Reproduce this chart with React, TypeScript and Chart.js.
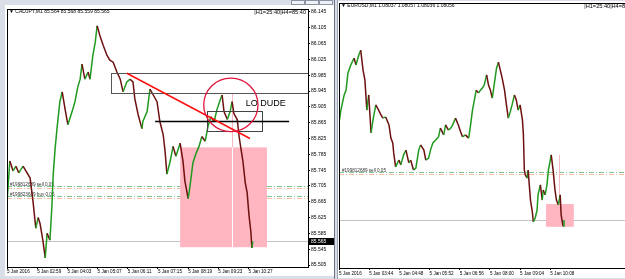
import React, { useEffect, useRef } from 'react';
import { Chart, registerables } from 'chart.js';
Chart.register(...registerables);

const FONT = '"Liberation Sans", Arial, sans-serif';
const UP = '#1f9a1f';
const DOWN = '#6e1010';

// ---------- CADJPY,M1 (left) ----------
const cadTimes = [
  0, 6, 13, 19, 25, 34, 40, 49, 55, 61,
  66, 70, 76, 81, 85, 91, 95, 98, 102, 106,
  112, 117, 123, 129, 138, 144, 150, 155, 159, 165,
  172, 176, 182, 187, 191, 197, 204, 212, 218, 225,
  233, 240, 246, 254, 261, 267, 271, 278, 286, 288,
  297, 303, 310, 318, 324, 331, 335, 339, 346, 352,
  358, 367, 373, 377, 384, 388, 394, 401, 407, 413,
  420, 426, 432, 439, 445, 452, 456, 460, 467, 473,
  477, 481, 488, 492, 496, 500, 505, 509, 513, 517,
  519, 521,
];
const cadPrices = [
  85.663, 85.768, 85.743, 85.755, 85.738, 85.755, 85.743, 85.725, 85.668, 85.598,
  85.625, 85.61, 85.568, 85.523, 85.585, 85.568, 85.65, 85.735, 85.8, 85.85,
  85.918, 85.943, 85.9, 85.86, 85.893, 85.918, 85.955, 85.975, 86.013, 85.975,
  85.993, 85.975, 86.035, 86.068, 86.11, 86.085, 86.06, 86.035, 86.023, 86.018,
  85.993, 85.975, 85.943, 85.968, 85.975, 85.968, 85.925, 85.885, 85.85, 85.868,
  85.893, 85.95, 85.935, 85.918, 85.868, 85.835, 85.793, 85.735, 85.768, 85.805,
  85.78, 85.813, 85.768, 85.718, 85.673, 85.705, 85.763, 85.788, 85.805, 85.83,
  85.818, 85.855, 85.88, 85.868, 85.898, 85.923, 85.935, 85.893, 85.873, 85.893,
  85.918, 85.888, 85.873, 85.83, 85.798, 85.768, 85.713, 85.688, 85.63, 85.588,
  85.548, 85.565,
];
const cadTickTimes = [0, 64, 128, 192, 256, 320, 384, 448, 512];
const cadTickLabels = ['5 Jan 2016', '5 Jan 02:59', '5 Jan 04:03', '5 Jan 05:07', '5 Jan 06:11', '5 Jan 07:15', '5 Jan 08:19', '5 Jan 09:23', '5 Jan 10:27'];
const cadPriceTicks = [85.505, 85.545, 85.585, 85.625, 85.665, 85.705, 85.745, 85.785, 85.825, 85.865, 85.905, 85.945, 85.985, 86.025, 86.065, 86.105, 86.145];
const cadBid = 85.565;
const cadTradeLevels = [85.705, 85.68];
const cadTradeLabels = ['#199812689 sell 0.05', '#199823689 buy 0.05'];
const cadUpperBox = { t0: 220, t1: 800, p0: 85.94, p1: 85.991 };
const cadSmallBox = { t0: 424, t1: 540, p0: 85.845, p1: 85.895 };
const cadPinkBox = { t0: 367, t1: 551, p0: 85.55, p1: 85.8025 };
const cadVLine = { t: 477, p0: 85.55, p1: 85.9375 };
const cadTrend = { t0: 254, p0: 85.99, t1: 515, p1: 85.825 };
const cadHLine = { t0: 314, t1: 598, p: 85.87 };
const cadCircle = { t0: 417, t1: 532, p0: 85.8425, p1: 85.9775 };
const cadNote = { t: 506, p: 85.9125, text: 'LO DUDE' };

// ---------- EURUSD,M1 (right) ----------
const eurTimes = [
  0, 4, 11, 15, 19, 25, 32, 36, 42, 46,
  51, 55, 59, 63, 68, 72, 78, 84, 89, 93,
  99, 106, 110, 114, 116, 120, 127, 131, 137, 142,
  148, 152, 158, 163, 169, 173, 180, 184, 190, 194,
  199, 205, 211, 215, 222, 226, 232, 237, 241, 247,
  253, 258, 262, 268, 275, 279, 283, 287, 291, 296,
  300, 304, 308, 313, 317, 321, 325, 329, 334, 338,
  342, 346, 351, 355, 359, 363, 367, 372, 376, 380,
  384, 389, 391, 393, 395, 399, 401, 406, 410, 412,
  416, 420, 422, 427, 431, 433, 437, 441, 444, 448,
  450, 454, 458, 461, 465, 469, 471, 475, 477,
];
const eurPrices = [
  1.08299, 1.08331, 1.08369, 1.08381, 1.08424, 1.08444, 1.08461, 1.08444, 1.08469, 1.08481,
  1.08431, 1.08406, 1.08331, 1.08369, 1.08274, 1.08306, 1.08344, 1.08331, 1.08319, 1.08311,
  1.08314, 1.08294, 1.08261, 1.08249, 1.08224, 1.08189, 1.08206, 1.08194, 1.08219, 1.08231,
  1.08199, 1.08206, 1.08181, 1.08186, 1.08231, 1.08244, 1.08231, 1.08206, 1.08211, 1.08231,
  1.08249, 1.08256, 1.08264, 1.08286, 1.08269, 1.08294, 1.08281, 1.08286, 1.08294, 1.08311,
  1.08294, 1.08276, 1.08264, 1.08269, 1.08261, 1.08294, 1.08331, 1.08356, 1.08381, 1.08374,
  1.08381, 1.08386, 1.08394, 1.08419, 1.08394, 1.08381, 1.08361, 1.08394, 1.08436, 1.08451,
  1.08431, 1.08411, 1.08381, 1.08344, 1.08311, 1.08326, 1.08344, 1.08369, 1.08356, 1.08331,
  1.08344, 1.08306, 1.08269, 1.08181, 1.08169, 1.08161, 1.08181, 1.08106, 1.08076, 1.08051,
  1.08061, 1.08081, 1.08119, 1.08144, 1.08106, 1.08131, 1.08119, 1.08144, 1.08181, 1.08206,
  1.08219, 1.08181, 1.08131, 1.08106, 1.08094, 1.08119, 1.08069, 1.08041, 1.08056,
];
const eurTickTimes = [0, 64, 128, 192, 256, 320, 384, 448];
const eurTickLabels = ['5 Jan 2016', '5 Jan 03:44', '5 Jan 04:48', '5 Jan 05:52', '5 Jan 06:56', '5 Jan 08:00', '5 Jan 09:04', '5 Jan 10:08'];
const eurBid = 1.08056;
const eurTradeLevels = [1.08176];
const eurTradeLabels = ['#199812689 sell 0.05'];
const eurPinkBox = { t0: 439, t1: 498, p0: 1.08039, p1: 1.08096 };
const eurVLine = { t: 467, p0: 1.08096, p1: 1.08219 };

const TRADE_GREEN = '#7cc493';
const TRADE_ORANGE = '#f8bea2';

function pts(times: number[], prices: number[]) {
  return times.map((t, i) => ({ x: t, y: prices[i] }));
}

function seg(ctx: CanvasRenderingContext2D, x0: number, y0: number, x1: number, y1: number, color: string, w: number, dash: number[] = []) {
  ctx.save();
  ctx.strokeStyle = color;
  ctx.lineWidth = w;
  ctx.setLineDash(dash);
  ctx.beginPath();
  ctx.moveTo(x0, y0);
  ctx.lineTo(x1, y1);
  ctx.stroke();
  ctx.restore();
}

const snap = (v: number) => Math.round(v) + 0.5;

function clipArea(chart: any) {
  const { ctx, chartArea: a } = chart;
  ctx.save();
  ctx.beginPath();
  ctx.rect(a.left, a.top, a.right - a.left, a.bottom - a.top);
  ctx.clip();
}

function drawTradeLines(chart: any, levels: number[], labels: string[]) {
  const { ctx, chartArea: a, scales } = chart;
  levels.forEach((lv: number, i: number) => {
    const yg = snap(scales.y.getPixelForValue(lv));
    seg(ctx, a.left, yg, a.right, yg, TRADE_GREEN, 1, [5, 2, 1, 2]);
    seg(ctx, a.left, yg + 2, a.right, yg + 2, TRADE_ORANGE, 1, [5, 2, 1, 2]);
    ctx.save();
    ctx.font = `4.6px ${FONT}`;
    ctx.fillStyle = '#333';
    ctx.textBaseline = 'bottom';
    ctx.fillText(labels[i], a.left + 3, yg + 1);
    ctx.restore();
  });
}

function drawHeader(chart: any, left: string, right: string) {
  const { ctx, chartArea: a } = chart;
  ctx.save();
  ctx.font = `5px ${FONT}`;
  ctx.fillStyle = '#000';
  ctx.textBaseline = 'middle';
  ctx.textAlign = 'left';
  ctx.fillText(left, a.left + 2, a.top + 3);
  ctx.restore();
  ctx.save();
  ctx.font = `5.6px ${FONT}`;
  ctx.fillStyle = '#000';
  ctx.textBaseline = 'middle';
  ctx.textAlign = 'right';
  const rx = Math.min(a.right, chart.width) - 2;
  ctx.fillText(right, rx, a.top + 3);
  ctx.restore();
}

function strokeBorder(chart: any) {
  const { ctx, chartArea: a } = chart;
  ctx.save();
  ctx.strokeStyle = '#000';
  ctx.lineWidth = 1;
  ctx.strokeRect(snap(a.left), snap(a.top), Math.round(a.right - a.left), Math.round(a.bottom - a.top));
  ctx.restore();
}

const cadPlugin = {
  id: 'cadOverlay',
  beforeDatasetsDraw(chart: any) {
    const { ctx, chartArea: a, scales: { x, y } } = chart;
    clipArea(chart);
    const yb = snap(y.getPixelForValue(cadBid));
    seg(ctx, a.left, yb, a.right, yb, '#c4c4c4', 1);
    drawTradeLines(chart, cadTradeLevels, cadTradeLabels);
    const bx0 = x.getPixelForValue(cadPinkBox.t0);
    const bx1 = x.getPixelForValue(cadPinkBox.t1);
    const by0 = y.getPixelForValue(cadPinkBox.p1);
    const by1 = y.getPixelForValue(cadPinkBox.p0);
    ctx.fillStyle = '#ffb6c1';
    ctx.fillRect(bx0, by0, bx1 - bx0, by1 - by0);
    const vx = snap(x.getPixelForValue(cadVLine.t));
    seg(ctx, vx, y.getPixelForValue(cadVLine.p1), vx, by0, '#f5b8c4', 1);
    seg(ctx, vx, by0, vx, y.getPixelForValue(cadVLine.p0), '#ffffff', 1);
    ctx.restore();
  },
  afterDatasetsDraw(chart: any) {
    const { ctx, scales: { x, y } } = chart;
    clipArea(chart);
    ctx.strokeStyle = '#555';
    ctx.lineWidth = 1;
    const ux0 = snap(x.getPixelForValue(cadUpperBox.t0));
    const ux1 = snap(x.getPixelForValue(cadUpperBox.t1));
    const uy0 = snap(y.getPixelForValue(cadUpperBox.p1));
    const uy1 = snap(y.getPixelForValue(cadUpperBox.p0));
    ctx.strokeRect(ux0, uy0, ux1 - ux0, uy1 - uy0);
    const sx0 = snap(x.getPixelForValue(cadSmallBox.t0));
    const sx1 = snap(x.getPixelForValue(cadSmallBox.t1));
    const sy0 = snap(y.getPixelForValue(cadSmallBox.p1));
    const sy1 = snap(y.getPixelForValue(cadSmallBox.p0));
    ctx.strokeStyle = '#444';
    ctx.strokeRect(sx0, sy0, sx1 - sx0, sy1 - sy0);
    const hy = snap(y.getPixelForValue(cadHLine.p));
    seg(ctx, x.getPixelForValue(cadHLine.t0), hy, x.getPixelForValue(cadHLine.t1), hy, '#000', 1.3);
    seg(ctx, x.getPixelForValue(cadTrend.t0), y.getPixelForValue(cadTrend.p0), x.getPixelForValue(cadTrend.t1), y.getPixelForValue(cadTrend.p1), '#ff1010', 1.5);
    const cx0 = x.getPixelForValue(cadCircle.t0);
    const cx1 = x.getPixelForValue(cadCircle.t1);
    const cy0 = y.getPixelForValue(cadCircle.p1);
    const cy1 = y.getPixelForValue(cadCircle.p0);
    ctx.save();
    ctx.strokeStyle = '#e0143c';
    ctx.lineWidth = 1.3;
    ctx.beginPath();
    ctx.ellipse((cx0 + cx1) / 2, (cy0 + cy1) / 2, (cx1 - cx0) / 2, (cy1 - cy0) / 2, 0, 0, Math.PI * 2);
    ctx.stroke();
    ctx.restore();
    ctx.save();
    ctx.font = `9px ${FONT}`;
    ctx.fillStyle = '#000';
    ctx.textBaseline = 'middle';
    ctx.fillText(cadNote.text, x.getPixelForValue(cadNote.t), y.getPixelForValue(cadNote.p));
    ctx.restore();
    ctx.restore();
  },
  afterDraw(chart: any) {
    const { ctx, chartArea: a, scales: { y } } = chart;
    strokeBorder(chart);
    drawHeader(chart, '\u25BC CADJPY,M1 85.564 85.568 85.559 85.565', '|H1=25:40|H4=85:40');
    const yb = y.getPixelForValue(cadBid);
    ctx.save();
    ctx.fillStyle = '#000';
    ctx.fillRect(a.right + 1, Math.round(yb) - 3, chart.width - a.right - 1, 7);
    ctx.fillStyle = '#fff';
    ctx.font = `5px ${FONT}`;
    ctx.textBaseline = 'middle';
    ctx.fillText(cadBid.toFixed(3), a.right + 3, Math.round(yb) + 0.5);
    ctx.restore();
  },
};

const eurPlugin = {
  id: 'eurOverlay',
  beforeDatasetsDraw(chart: any) {
    const { ctx, chartArea: a, scales: { x, y } } = chart;
    clipArea(chart);
    const yb = snap(y.getPixelForValue(eurBid));
    seg(ctx, a.left, yb, a.right, yb, '#c4c4c4', 1);
    drawTradeLines(chart, eurTradeLevels, eurTradeLabels);
    const bx0 = x.getPixelForValue(eurPinkBox.t0);
    const bx1 = x.getPixelForValue(eurPinkBox.t1);
    const by0 = y.getPixelForValue(eurPinkBox.p1);
    const by1 = y.getPixelForValue(eurPinkBox.p0);
    ctx.fillStyle = '#ffb6c1';
    ctx.fillRect(bx0, by0, bx1 - bx0, by1 - by0);
    const vx = snap(x.getPixelForValue(eurVLine.t));
    seg(ctx, vx, y.getPixelForValue(eurVLine.p1), vx, by0, '#f5b8c4', 1);
    ctx.restore();
  },
  afterDraw(chart: any) {
    strokeBorder(chart);
    drawHeader(chart, '\u25BC EURUSD,M1 1.08037 1.08057 1.08036 1.08056', '|H1=25:40|H4=85:40');
  },
};

function baseDataset(times: number[], prices: number[]) {
  return {
    data: pts(times, prices),
    borderWidth: 1.5,
    pointRadius: 0,
    tension: 0,
    borderColor: UP,
    segment: {
      borderColor: (c: any) => (c.p1.parsed.y >= c.p0.parsed.y ? UP : DOWN),
    },
  };
}

function xScale(max: number, tickTimes: number[], tickLabels: string[], height: number, pad: number) {
  return {
    type: 'linear',
    min: 0,
    max,
    afterBuildTicks: (ax: any) => {
      ax.ticks = tickTimes.map((v) => ({ value: v }));
    },
    afterFit: (s: any) => {
      s.height = height;
    },
    grid: { drawOnChartArea: false, drawTicks: true, tickLength: 2, color: '#000' },
    border: { display: false },
    ticks: {
      autoSkip: false,
      maxRotation: 0,
      minRotation: 0,
      align: 'start',
      padding: pad,
      color: '#000',
      font: { size: 4.6, family: FONT },
      callback: (_v: any, i: number) => tickLabels[i],
    },
  };
}

function LeftChart() {
  const ref = useRef<HTMLCanvasElement>(null);
  useEffect(() => {
    const chart = new Chart(ref.current as HTMLCanvasElement, {
      type: 'line',
      data: { datasets: [baseDataset(cadTimes, cadPrices) as any] },
      options: {
        animation: false,
        responsive: false,
        maintainAspectRatio: false,
        layout: { padding: { left: 2, top: 1, right: 0, bottom: 0 } },
        plugins: { legend: { display: false }, tooltip: { enabled: false } },
        scales: {
          x: xScale(638, cadTickTimes, cadTickLabels, 9, 0) as any,
          y: {
            position: 'right',
            min: 85.5,
            max: 86.1525,
            afterBuildTicks: (ax: any) => {
              ax.ticks = cadPriceTicks.map((v) => ({ value: v }));
            },
            afterFit: (s: any) => {
              s.width = 26;
            },
            grid: { drawOnChartArea: false, drawTicks: true, tickLength: 2, color: '#000' },
            border: { display: false },
            ticks: {
              padding: 1,
              color: '#000',
              font: { size: 5, family: FONT },
              callback: (v: any) => Number(v).toFixed(3),
            },
          },
        },
      },
      plugins: [cadPlugin],
    });
    return () => chart.destroy();
  }, []);
  return (
    <canvas
      ref={ref}
      width={329}
      height={271}
      style={{ position: 'absolute', left: 5, top: 5, width: 329, height: 271, background: '#fff' }}
    />
  );
}

function RightChart() {
  const ref = useRef<HTMLCanvasElement>(null);
  useEffect(() => {
    const chart = new Chart(ref.current as HTMLCanvasElement, {
      type: 'line',
      data: { datasets: [baseDataset(eurTimes, eurPrices) as any] },
      options: {
        animation: false,
        responsive: false,
        maintainAspectRatio: false,
        layout: { padding: { left: 0, top: 2, right: 0, bottom: 0 } },
        plugins: { legend: { display: false }, tooltip: { enabled: false } },
        scales: {
          x: xScale(634, eurTickTimes, eurTickLabels, 10, 1) as any,
          y: {
            display: false,
            min: 1.07936,
            max: 1.08599,
          },
        },
      },
      plugins: [eurPlugin],
    });
    return () => chart.destroy();
  }, []);
  return (
    <canvas
      ref={ref}
      width={300}
      height={277}
      style={{ position: 'absolute', left: 338, top: 1, width: 300, height: 277, background: '#fff' }}
    />
  );
}

export default function App() {
  const frame = '#d9dee7';
  return (
    <div
      style={{
        position: 'absolute',
        left: 0,
        top: 0,
        width: 625,
        height: 279,
        overflow: 'hidden',
        background: frame,
        fontFamily: FONT,
      }}
    >
      <div style={{ position: 'absolute', left: 291, top: 0, width: 12, height: 3, border: '1px solid #8a93a3', background: '#eef1f6' }} />
      <div style={{ position: 'absolute', left: 305, top: 0, width: 12, height: 3, border: '1px solid #8a93a3', background: '#eef1f6' }} />
      <div style={{ position: 'absolute', left: 319, top: 0, width: 12, height: 3, border: '1px solid #8a93a3', background: '#eef1f6' }} />
      <LeftChart />
      <div style={{ position: 'absolute', left: 334, top: 0, width: 1, height: 279, background: '#6d7480' }} />
      <div style={{ position: 'absolute', left: 337, top: 0, width: 1, height: 279, background: '#9aa2ae' }} />
      <RightChart />
    </div>
  );
}
